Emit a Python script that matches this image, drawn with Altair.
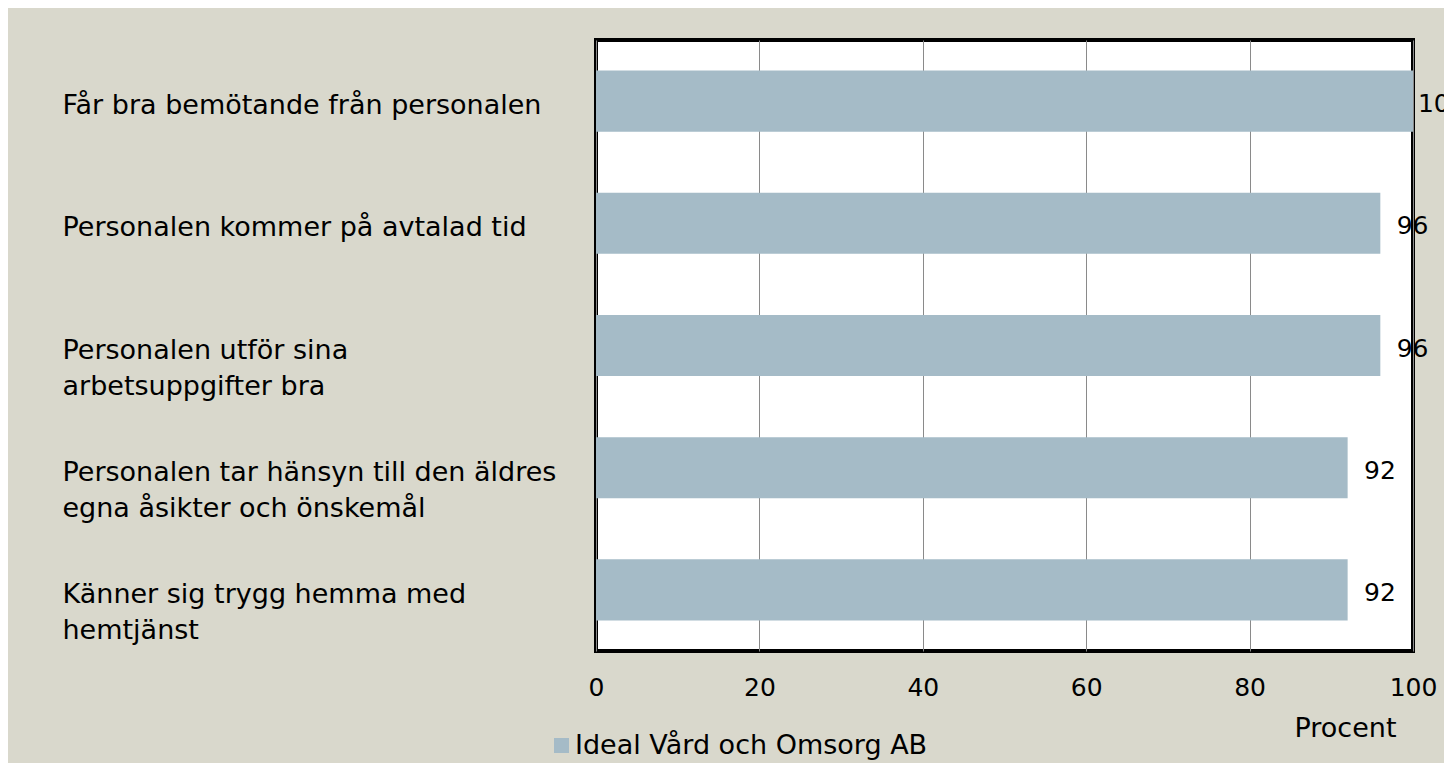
import altair as alt
import pandas as pd

categories = [
    "Får bra bemötande från personalen",
    "Personalen kommer på avtalad tid",
    "Personalen utför sina|arbetsuppgifter bra",
    "Personalen tar hänsyn till den äldres|egna åsikter och önskemål",
    "Känner sig trygg hemma med|hemtjänst",
]
values = [100, 96, 96, 92, 92]
series_name = "Ideal Vård och Omsorg AB"
x_ticks = [0, 20, 40, 60, 80, 100]
x_title = "Procent"

df = pd.DataFrame({
    "category": categories,
    "value": values,
    "series": [series_name] * len(categories),
})

FONT = "DejaVu Sans"
BAR = "#A5BBC7"
BG = "#D9D8CC"

y_enc = alt.Y(
    "category:N",
    sort=categories,
    title=None,
    scale=alt.Scale(paddingInner=0.5, paddingOuter=0.25),
    axis=alt.Axis(
        labelExpr="split(datum.label, '|')",
        labelAlign="left",
        labelBaseline="top",
        labelPadding=534,
        labelOffset=-8,
        labelLineHeight=36,
        labelFontSize=27,
        labelFont=FONT,
        labelColor="black",
        labelLimit=600,
        ticks=False,
        tickSize=0,
        domain=False,
        grid=False,
    ),
)

x_enc = alt.X(
    "value:Q",
    scale=alt.Scale(domain=[0, 100], nice=False),
    axis=alt.Axis(
        values=x_ticks,
        title=x_title,
        titleFont=FONT,
        titleFontSize=27,
        titleFontWeight="normal",
        titleColor="black",
        titleX=749,
        titleY=77,
        titleAlign="center",
        titleBaseline="middle",
        labelFont=FONT,
        labelFontSize=25,
        labelColor="black",
        labelBaseline="middle",
        labelPadding=36,
        labelFlush=False,
        ticks=False,
        tickSize=0,
        domain=False,
        grid=True,
        gridColor="#8A8A8A",
        gridWidth=1,
        gridOpacity=1,
    ),
)

bars = alt.Chart(df).mark_bar().encode(
    x=x_enc,
    y=y_enc,
    color=alt.Color(
        "series:N",
        scale=alt.Scale(range=[BAR]),
        legend=alt.Legend(
            title=None,
            orient="none",
            legendX=-48,
            legendY=692,
            padding=0,
            symbolType="square",
            symbolSize=225,
            symbolStrokeWidth=0,
            labelFont=FONT,
            labelFontSize=27,
            labelColor="black",
            labelOffset=0,
            labelLimit=600,
        ),
    ),
)

labels = alt.Chart(df).transform_calculate(
    label_x="min(datum.value + 2, 100.6)"
).mark_text(
    align="left", baseline="middle", dy=3, font=FONT, fontSize=25, color="black"
).encode(
    x=alt.X("label_x:Q"),
    y=alt.Y("category:N", sort=categories),
    text=alt.Text("value:Q"),
)

chart = alt.layer(bars, labels).properties(
    width=817,
    height=611,
    background=BG,
    padding={"left": 588, "top": 32, "right": 31, "bottom": 112},
    autosize=alt.AutoSizeParams(type="none"),
).configure_view(
    fill="white",
    stroke="black",
    strokeWidth=4,
)

chart.save("out.html", embed_options={"renderer": "svg", "actions": False})
